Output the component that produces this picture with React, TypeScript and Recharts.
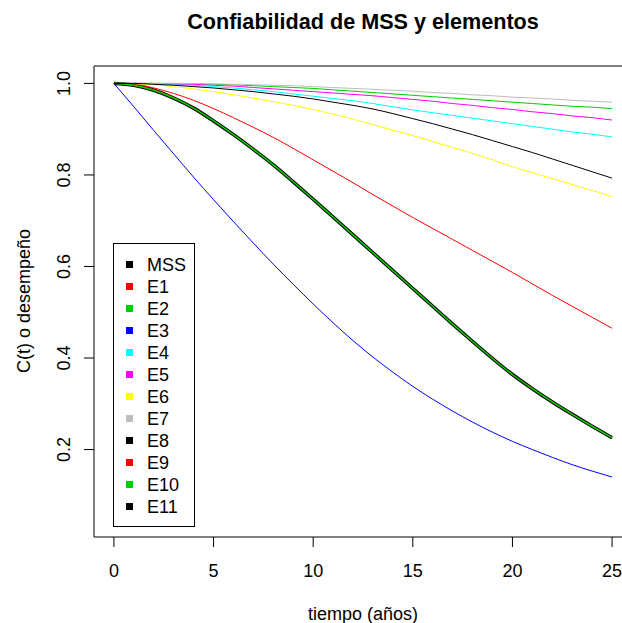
import React from "react";
import { LineChart, Line, XAxis, YAxis, ReferenceArea, Legend } from "recharts";

// tiempo en años
const years = [0, 1, 2, 3, 4, 5, 6, 7, 8, 9, 10, 11, 12, 13, 14, 15, 16, 17, 18, 19, 20, 21, 22, 23, 24, 25];

const mss = [1.0, 0.996, 0.985, 0.968, 0.946, 0.918, 0.888, 0.856, 0.822, 0.785, 0.747, 0.708, 0.669, 0.63, 0.591, 0.552, 0.513, 0.474, 0.436, 0.399, 0.364, 0.333, 0.304, 0.277, 0.251, 0.226];
const e1 = [1.0, 0.998, 0.99, 0.978, 0.963, 0.945, 0.925, 0.904, 0.882, 0.858, 0.833, 0.808, 0.783, 0.757, 0.732, 0.707, 0.683, 0.659, 0.635, 0.611, 0.587, 0.562, 0.537, 0.513, 0.489, 0.465];
const e2 = [1.0, 1.0, 1.0, 1.0, 0.999, 0.998, 0.997, 0.995, 0.993, 0.991, 0.989, 0.986, 0.983, 0.98, 0.977, 0.974, 0.971, 0.968, 0.965, 0.962, 0.959, 0.956, 0.953, 0.95, 0.948, 0.945];
const e3 = [1.0, 0.949, 0.897, 0.846, 0.795, 0.746, 0.698, 0.651, 0.605, 0.561, 0.518, 0.477, 0.438, 0.402, 0.369, 0.338, 0.31, 0.284, 0.26, 0.238, 0.218, 0.2, 0.183, 0.167, 0.153, 0.14];
const e4 = [1.0, 1.0, 0.999, 0.998, 0.996, 0.993, 0.99, 0.986, 0.982, 0.977, 0.972, 0.967, 0.962, 0.956, 0.949, 0.942, 0.936, 0.93, 0.924, 0.918, 0.912, 0.906, 0.9, 0.894, 0.889, 0.883];
const e5 = [1.0, 1.0, 1.0, 0.999, 0.998, 0.996, 0.994, 0.991, 0.988, 0.985, 0.982, 0.979, 0.976, 0.973, 0.969, 0.965, 0.961, 0.956, 0.952, 0.947, 0.943, 0.938, 0.934, 0.929, 0.925, 0.92];
const e6 = [1.0, 0.999, 0.997, 0.993, 0.988, 0.982, 0.975, 0.968, 0.96, 0.952, 0.943, 0.933, 0.922, 0.91, 0.898, 0.886, 0.873, 0.86, 0.847, 0.833, 0.818, 0.805, 0.792, 0.779, 0.766, 0.753];
const e7 = [1.0, 1.0, 1.0, 1.0, 1.0, 0.999, 0.998, 0.997, 0.996, 0.995, 0.993, 0.991, 0.989, 0.987, 0.985, 0.983, 0.98, 0.978, 0.975, 0.973, 0.97, 0.968, 0.966, 0.963, 0.961, 0.959];
const e8 = [1.0, 0.997, 0.984, 0.967, 0.947, 0.917, 0.889, 0.855, 0.823, 0.784, 0.748, 0.707, 0.67, 0.629, 0.592, 0.551, 0.514, 0.473, 0.437, 0.398, 0.365, 0.332, 0.305, 0.276, 0.252, 0.225];
const e9 = [1.0, 0.995, 0.986, 0.969, 0.945, 0.919, 0.887, 0.857, 0.821, 0.786, 0.746, 0.709, 0.668, 0.631, 0.59, 0.553, 0.512, 0.475, 0.435, 0.4, 0.363, 0.334, 0.303, 0.278, 0.25, 0.227];
const e10 = [1.0, 0.996, 0.985, 0.968, 0.946, 0.918, 0.888, 0.856, 0.822, 0.785, 0.747, 0.708, 0.669, 0.63, 0.591, 0.552, 0.513, 0.474, 0.436, 0.399, 0.364, 0.333, 0.304, 0.277, 0.251, 0.226];
const e11 = [1.0, 1.0, 0.998, 0.996, 0.993, 0.99, 0.986, 0.982, 0.977, 0.972, 0.966, 0.959, 0.952, 0.944, 0.934, 0.923, 0.912, 0.9, 0.888, 0.875, 0.862, 0.849, 0.835, 0.821, 0.807, 0.793];

const xTicks = [0, 5, 10, 15, 20, 25];
const yTicks = [0.2, 0.4, 0.6, 0.8, 1.0];

const series = [
  { name: "MSS", values: mss, color: "#000000", width: 3.5 },
  { name: "E1", values: e1, color: "#FF0000", width: 1 },
  { name: "E2", values: e2, color: "#00CD00", width: 1 },
  { name: "E3", values: e3, color: "#0000FF", width: 1 },
  { name: "E4", values: e4, color: "#00FFFF", width: 1 },
  { name: "E5", values: e5, color: "#FF00FF", width: 1 },
  { name: "E6", values: e6, color: "#FFFF00", width: 1 },
  { name: "E7", values: e7, color: "#BEBEBE", width: 1 },
  { name: "E8", values: e8, color: "#000000", width: 1 },
  { name: "E9", values: e9, color: "#FF0000", width: 1 },
  { name: "E10", values: e10, color: "#00CD00", width: 1.5 },
  { name: "E11", values: e11, color: "#000000", width: 1 },
];

const data = years.map((t, i) => {
  const row: Record<string, number> = { t };
  series.forEach((s) => {
    row[s.name] = s.values[i];
  });
  return row;
});

const font = '"Liberation Sans", Arial, sans-serif';

const YTick = ({ x, y, payload }: any) => (
  <text
    x={x - 18}
    y={y}
    transform={`rotate(-90 ${x - 18} ${y})`}
    textAnchor="middle"
    dominantBaseline="central"
    fontSize={18}
    fill="#000"
    fontFamily={font}
  >
    {payload.value.toFixed(1)}
  </text>
);

// leyenda estilo R: caja con cuadraditos
const renderLegend = () => (
  <div
    style={{
      position: "relative",
      width: 82,
      height: 284,
      border: "1px solid #000",
      boxSizing: "border-box",
      background: "#fff",
      fontFamily: font,
      fontSize: 18,
    }}
  >
    {series.map((s, i) => (
      <div
        key={s.name}
        style={{ position: "absolute", left: 0, top: 21 + 22 * i, height: 0 }}
      >
        <div
          style={{
            position: "absolute",
            left: 12,
            top: -4,
            width: 7,
            height: 7,
            background: s.color,
          }}
        />
        <div
          style={{
            position: "absolute",
            left: 33,
            top: -11,
            lineHeight: "22px",
            whiteSpace: "nowrap",
            color: "#000",
          }}
        >
          {s.name}
        </div>
      </div>
    ))}
  </div>
);

export default function App() {
  return (
    <div
      style={{
        position: "absolute",
        left: 0,
        top: 0,
        width: 622,
        height: 623,
        overflow: "hidden",
        background: "#fff",
        fontFamily: font,
      }}
    >
      <LineChart
        width={640}
        height={623}
        data={data}
        margin={{ top: 66, right: 8, bottom: 0, left: 0 }}
      >
        <XAxis
          dataKey="t"
          type="number"
          domain={[-1, 26]}
          ticks={xTicks}
          allowDataOverflow
          axisLine={false}
          tickLine={{ stroke: "#000" }}
          tickSize={10}
          tickMargin={17}
          height={86}
          tick={{ fill: "#000", fontSize: 18, fontFamily: font }}
        />
        <YAxis
          type="number"
          domain={[0.009, 1.038]}
          ticks={yTicks}
          allowDataOverflow
          axisLine={false}
          tickLine={{ stroke: "#000" }}
          tickSize={10}
          width={94}
          tick={<YTick />}
        />
        <ReferenceArea
          x1={-1}
          x2={26}
          y1={0.009}
          y2={1.038}
          fill="none"
          fillOpacity={0}
          stroke="#000"
          strokeWidth={1}
        />
        {series.map((s) => (
          <Line
            key={s.name}
            type="monotone"
            dataKey={s.name}
            stroke={s.color}
            strokeWidth={s.width}
            dot={false}
            activeDot={false}
            isAnimationActive={false}
          />
        ))}
        <Legend
          layout="vertical"
          align="center"
          verticalAlign="middle"
          content={renderLegend}
          wrapperStyle={{ left: 113, top: 243, width: 82, height: 284 }}
        />
      </LineChart>
      <div
        style={{
          position: "absolute",
          left: 63,
          width: 600,
          top: 11,
          textAlign: "center",
          fontSize: 21.6,
          fontWeight: "bold",
          lineHeight: 1,
          color: "#000",
        }}
      >
        Confiabilidad de MSS y elementos
      </div>
      <div
        style={{
          position: "absolute",
          left: 63,
          width: 600,
          top: 605,
          textAlign: "center",
          fontSize: 18,
          lineHeight: 1,
          color: "#000",
        }}
      >
        tiempo (años)
      </div>
      <div
        style={{
          position: "absolute",
          left: 24,
          top: 301,
          transform: "translate(-50%, -50%) rotate(-90deg)",
          fontSize: 18,
          lineHeight: 1,
          whiteSpace: "nowrap",
          color: "#000",
        }}
      >
        C(t) o desempeño
      </div>
    </div>
  );
}
